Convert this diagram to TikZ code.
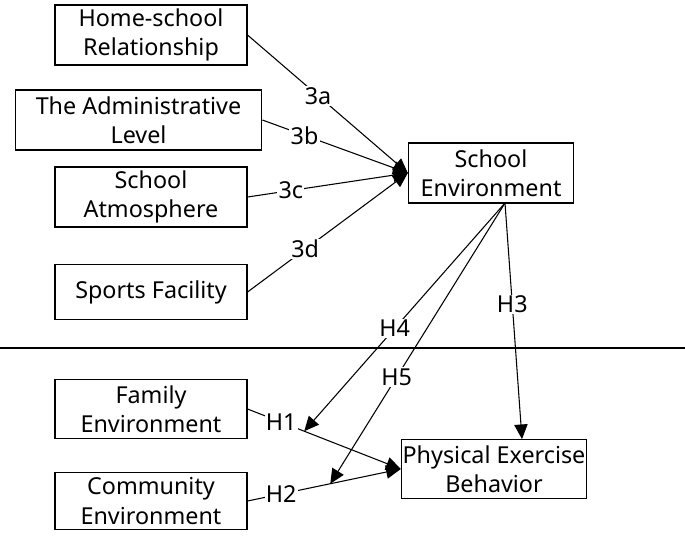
\documentclass[tikz,border=0pt]{standalone}
\usepackage{fontspec}
\setmainfont{Noto Sans}
\usetikzlibrary{arrows.meta,
                positioning}
\tikzset{factor/.style=
   {rectangle,
    draw,
    thick,
    text centered,
    align=center,
    inner sep=1pt,
    font=\fontsize{17.5}{22}\selectfont}}
\tikzset{arrow/.style = {draw, thick, -{Triangle[length=11pt,width=10pt]}}}
\tikzset{tag/.style = {fill=white, inner sep=1pt, font=\fontsize{17.5}{21}\selectfont}}

\begin{document}
\begin{tikzpicture}[x=0.75pt,y=-0.75pt]
    \useasboundingbox (0,0) rectangle (685,537);

    \node [factor, minimum width=144pt, minimum height=45pt] (home) at (151,35)
    {Home-school\\Relationship};
    \node [factor, minimum width=185pt, minimum height=45pt] (admin) at (138.5,120)
    {The Administrative\\Level};
    \node [factor, minimum width=144pt, minimum height=45pt] (atmos) at (151,197)
    {School\\Atmosphere};
    \node [factor, minimum width=144pt, minimum height=41pt] (sports) at (151,292)
    {Sports Facility};
    \node [factor, minimum width=124pt, minimum height=45pt] (school) at (491,173)
    {School\\Environment};
    \node [factor, minimum width=144pt, minimum height=44pt] (family) at (151,409)
    {Family\\Environment};
    \node [factor, minimum width=144pt, minimum height=43pt] (commun) at (151,501)
    {Community\\Environment};
    \node [factor, minimum width=129pt, minimum height=44pt] (behav) at (494,469)
    {Physical Exercise\\Behavior};

    % divider
    \draw [thick] (0,348) -- (685,348);

    % school environment factors
    \draw [arrow] (home.east) -- (school.west) node [tag, pos=0.44] {3a};
    \draw [arrow] (admin.east) -- (school.west) node [tag, pos=0.29] {3b};
    \draw [arrow] (atmos.east) -- (school.west) node [tag, pos=0.27] {3c};
    \draw [arrow] (sports.east) -- (school.west) node [tag, pos=0.36] {3d};

    % direct paths
    \draw [arrow] (family.east) -- (behav.west)
        node [tag, pos=0.22] {H1} coordinate [pos=0.37] (hit1);
    \draw [arrow] (commun.east) -- (behav.west)
        node [tag, pos=0.22] {H2} coordinate [pos=0.54] (hit2);

    % moderating paths
    \coordinate (sbase) at (505,203);
    \draw [arrow] (sbase) -- (hit1) node [tag, pos=0.55] {H4};
    \draw [arrow] (sbase) -- (hit2) node [tag, pos=0.62] {H5};
    \draw [arrow] (sbase) -- (behav.north -| 522,0) node [tag, pos=0.43] {H3};

\end{tikzpicture}
\end{document}
